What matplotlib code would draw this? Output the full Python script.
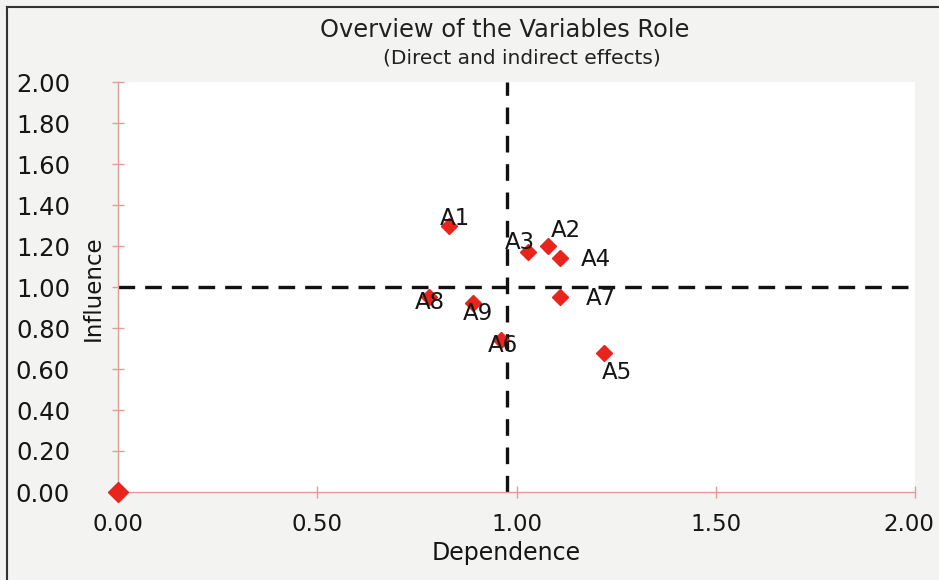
import matplotlib
matplotlib.use("Agg")
import matplotlib.pyplot as plt
from matplotlib.lines import Line2D
from matplotlib.transforms import ScaledTranslation

# Data
labels = ["A1", "A2", "A3", "A4", "A7", "A5", "A8", "A9", "A6"]
dependence = [0.83, 1.08, 1.03, 1.11, 1.11, 1.22, 0.78, 0.89, 0.96]
influence = [1.30, 1.20, 1.17, 1.14, 0.95, 0.68, 0.95, 0.92, 0.74]
origin_x = [0.0]
origin_y = [0.0]
mean_dependence = 0.975
mean_influence = 1.0
x_ticks = [0.0, 0.5, 1.0, 1.5, 2.0]
y_ticks = [0.0, 0.2, 0.4, 0.6, 0.8, 1.0, 1.2, 1.4, 1.6, 1.8, 2.0]
# label offsets in points
label_offsets = {
    "A1": (-6.5, 5), "A2": (1.5, 11), "A3": (-17, 7), "A4": (15, -1),
    "A7": (18, -1), "A5": (-1.5, -14), "A8": (-10, -3.5), "A9": (-7, -7),
    "A6": (-9, -3.5),
}

W, H = 939, 580
fig = plt.figure(figsize=(W / 100, H / 100), dpi=100)
fig.patch.set_facecolor("#f3f3f1")

left, right, bottom, top = 118, 915, 492, 82
ax = fig.add_axes([left / W, 1 - bottom / H, (right - left) / W, (bottom - top) / H])
ax.set_facecolor("white")
ax.set_xlim(0, 2)
ax.set_ylim(0, 2)

for s in ["top", "right"]:
    ax.spines[s].set_visible(False)
for s in ["left", "bottom"]:
    ax.spines[s].set_color("#e79a9a")
    ax.spines[s].set_linewidth(1.0)

txt = "#151515"
ax.set_xticks(x_ticks)
ax.set_yticks(y_ticks)
ax.set_xticklabels([f"{v:.2f}" for v in x_ticks])
ax.set_yticklabels([f"{v:.2f}" for v in y_ticks])
ax.tick_params(axis="both", direction="inout", length=8, width=1.0, color="#e79a9a",
               labelcolor=txt)
ax.tick_params(axis="y", pad=30.5, labelsize=17.5)
ax.tick_params(axis="x", pad=11, labelsize=16.5)

# keep the last x tick label inside the figure
last = ax.get_xticklabels()[-1]
last.set_transform(last.get_transform() + ScaledTranslation(-6 / 100, 0, fig.dpi_scale_trans))

# quadrant lines
ax.axvline(mean_dependence, color="#111111", lw=2.4, dashes=(5, 3.5), zorder=2)
ax.axhline(mean_influence, color="#111111", lw=2.4, dashes=(5, 3), zorder=2)

red = "#e8241c"
ax.plot(dependence, influence, linestyle="none", marker="D", ms=8.5, color=red,
        markeredgecolor=red, zorder=3)
ax.plot(origin_x, origin_y, linestyle="none", marker="D", ms=10, color=red,
        markeredgecolor=red, zorder=3, clip_on=False)

for lab, x, y in zip(labels, dependence, influence):
    dx, dy = label_offsets[lab]
    ax.annotate(lab, (x, y), xytext=(dx, dy), textcoords="offset points",
                ha="left", va="center", fontsize=16.5, color=txt, zorder=4)

ax.set_xlabel("Dependence", fontsize=17, color=txt)
ax.xaxis.set_label_coords((506 - left) / (right - left), -(553 - bottom) / (bottom - top))
ax.xaxis.label.set_va("center")
ax.set_ylabel("Influence", fontsize=16.5, color=txt)
ax.yaxis.set_label_coords(-(left - 93) / (right - left), (bottom - 288) / (bottom - top))
ax.yaxis.label.set_va("center")

fig.text(505 / W, 1 - 30 / H, "Overview of the Variables Role", ha="center", va="center",
         fontsize=17.4, color="#202020")
fig.text(522 / W, 1 - 58 / H, "(Direct and indirect effects)", ha="center", va="center",
         fontsize=14.5, color="#202020")

# border lines of the frame
fig.add_artist(Line2D([7 / W, 7 / W], [0, 1 - 7 / H], transform=fig.transFigure,
                      color="#333333", lw=1.5))
fig.add_artist(Line2D([7 / W, 1], [1 - 7 / H, 1 - 7 / H], transform=fig.transFigure,
                      color="#333333", lw=1.5))

fig.savefig("out.png", dpi=100, facecolor=fig.get_facecolor())
